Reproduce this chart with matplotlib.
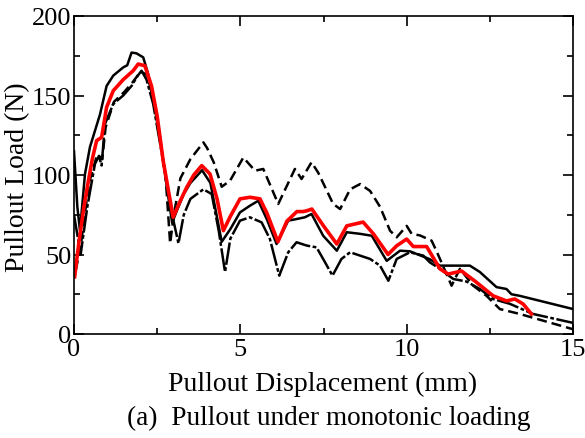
import matplotlib
matplotlib.use("Agg")
import matplotlib.pyplot as plt
from matplotlib.ticker import MultipleLocator

# pullout displacement (mm) / pullout load (N)
red_x = [0.02, 0.15, 0.3, 0.43, 0.55, 0.68, 0.83, 0.98, 1.18, 1.48, 1.78, 1.93, 2.13, 2.33, 2.5, 2.68,
	2.98, 3.2, 3.39, 3.6, 3.84, 4.09, 4.3, 4.49, 4.7, 4.99, 5.29, 5.59, 5.8, 6.13, 6.4, 6.7, 6.88,
	7.0, 7.15, 7.5, 7.9, 8.2, 8.69, 9.0, 9.44, 9.7, 10.0, 10.2, 10.6, 11.0, 11.25, 11.65, 12.05,
	12.6, 13.0, 13.25, 13.5, 13.75]
red_y = [36, 58, 80, 96, 110, 121.6, 123.7, 142.6, 153, 160, 165.6, 169.8, 168.7, 156, 137, 109,
	73.4, 84, 92.3, 100, 105.9, 100.6, 85, 65, 74, 85, 86, 85, 76, 58, 71, 77, 77,
	77.5, 78.6, 68, 56.6, 68, 70.4, 63, 50, 55.5, 59.7, 55, 55, 41, 37.7, 39.6, 33.3,
	24, 20.8, 22, 18.9, 12.6]

solid_x = [0.0, 0.1, 0.18, 0.33, 0.48, 0.78, 0.98, 1.18, 1.48, 1.6, 1.73, 1.88, 2.08, 2.23, 2.53,
	2.79, 2.95, 3.1, 3.3, 3.5, 3.85, 4.1, 4.44, 4.7, 4.99, 5.29, 5.54, 5.8, 6.09, 6.44, 6.69, 6.94,
	7.14, 7.49, 7.9, 8.2, 8.6, 8.95, 9.4, 9.8, 10.1, 10.7, 11.0, 11.9, 12.2, 12.7, 13.0, 13.15, 13.4, 15.0]
solid_y = [115, 80, 65, 100.6, 117.6, 138, 156, 162.5, 167.7, 169, 177, 176.5, 174, 163.5, 132,
	92.5, 70, 78, 88, 95, 103, 95, 58, 66, 76.5, 80.7, 83.8, 72, 56.6, 71.3, 72.3, 73.4,
	75.5, 61.8, 52.4, 64, 63, 61.8, 46, 52.4, 52, 47, 43, 43, 39, 29.5, 28.3, 25, 24, 15.7]

dashdot_x = [0.0, 0.2, 0.4, 0.63, 0.75, 0.83, 0.93, 1.18, 1.48, 1.73, 1.88, 2.03, 2.18, 2.38, 2.73,
	2.95, 3.14, 3.3, 3.5, 3.89, 4.14, 4.35, 4.54, 4.7, 4.99, 5.29, 5.64, 5.89, 6.17, 6.44, 6.69, 7.0,
	7.29, 7.49, 7.77, 8.04, 8.3, 8.6, 8.9, 9.2, 9.45, 9.7, 10.1, 10.5, 10.7, 11.0, 11.4, 11.8, 12.2,
	12.6, 13.1, 13.8, 15.0]
dashdot_y = [75, 50, 80, 107, 112, 106, 132, 144.7, 150, 156, 161.4, 165.6, 160, 144.7, 102.7,
	75, 57, 75, 85, 91, 88, 65, 39, 60, 71.3, 73.4, 70.2, 59.7, 36.7, 51.4, 57.7, 55.6,
	54.5, 47.2, 36.7, 47.2, 51.4, 49.3, 47.2, 43, 33.5, 47.2, 51.4, 49.3, 45, 41, 34.6, 33, 28.3,
	22, 19, 12.6, 7]

dashed_x = [0.05, 0.2, 0.45, 0.7, 0.85, 0.95, 1.2, 1.5, 1.75, 2.0, 2.2, 2.4, 2.75, 2.89, 3.0, 3.2,
	3.5, 3.89, 4.0, 4.2, 4.44, 4.69, 5.09, 5.44, 5.69, 6.14, 6.64, 6.84, 7.14, 7.34, 7.79, 8.0, 8.3,
	8.6, 8.9, 9.2, 9.5, 9.7, 10.0, 10.15, 10.4, 10.75, 10.9, 11.35, 11.6, 12.0, 12.4, 12.8, 13.4,
	14.1, 15.0]
dashed_y = [40, 55, 95, 113, 110, 130, 146, 152, 158, 165, 163, 146, 100, 57, 75, 98,
	110, 120.5, 117, 108, 92.6, 96.4, 111, 102.7, 103.8, 81.8, 103.8, 97.5, 108, 101.5, 81.8, 78.6, 91,
	94.3, 90, 80, 65, 60.8, 68, 63, 62, 58.7, 52, 30.4, 41, 30.4, 24, 15.7, 12.6,
	8.4, 3]

plt.rcParams['font.family'] = ['Liberation Serif', 'DejaVu Serif']

fig = plt.figure(figsize=(5.85, 4.39), dpi=100)
ax = fig.add_axes([74 / 585, 1 - 335 / 439, 499 / 585, 318 / 439])

ax.plot(dashed_x, dashed_y, color='black', lw=1.8, linestyle=(0, (4, 2)))
ax.plot(dashdot_x, dashdot_y, color='black', lw=1.8, linestyle=(0, (9, 1, 1.5, 1)))
ax.plot(solid_x, solid_y, color='black', lw=1.8)
ax.plot(red_x, red_y, color='red', lw=2.6)

ax.set_xlim(0, 15)
ax.set_ylim(0, 200)
ax.xaxis.set_major_locator(MultipleLocator(5))
ax.xaxis.set_minor_locator(MultipleLocator(2.5))
ax.yaxis.set_major_locator(MultipleLocator(50))
ax.yaxis.set_minor_locator(MultipleLocator(25))
ax.tick_params(which='both', direction='in', top=True, right=True, labelsize=19, width=1.2)
ax.tick_params(which='major', length=7)
ax.tick_params(which='minor', length=4.5)
ax.tick_params(axis='x', pad=3)
ax.tick_params(axis='y', pad=2)
for s in ax.spines.values():
	s.set_linewidth(1.2)

fig.text(323 / 585, 1 - 384 / 439, "Pullout Displacement (mm)", ha='center', va='center', fontsize=20)
fig.text(18 / 585, 1 - 177 / 439, "Pullout Load (N)", ha='center', va='center', rotation=90, fontsize=20)
fig.text(329 / 585, 1 - 418 / 439, "(a)  Pullout under monotonic loading", ha='center', va='center', fontsize=19.6)

fig.savefig("out.png", dpi=100)
